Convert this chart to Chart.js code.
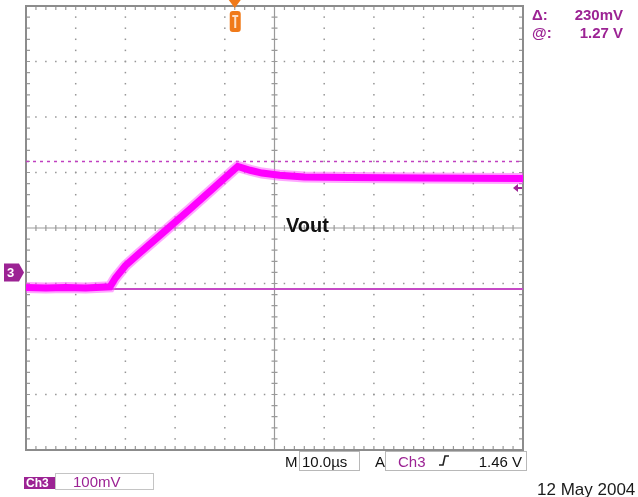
<html>
<head>
    <title>Vout</title>
    <style>
        body { margin: 0; background: #fff; }
    </style>
</head>
<body>
<div style="width: 638px; height: 497px">
    <canvas id="scope" width="638" height="497"></canvas>
</div>

<script src="https://cdn.jsdelivr.net/npm/chart.js"></script>

<script>
    // trace: time in us, Vout in mV from the centre line (100 mV/div)
    const timeUs = [0, 4, 8, 12, 16.9, 18.0, 20.0, 22.5, 27.5, 33.0, 38.5, 42.6, 45.1, 47.5, 51.0, 56.0, 65.0, 80.0, 100]
    const voutMv = [-107, -108, -107, -108, -106, -90, -68, -48, -9, 34, 78, 111, 104, 99, 95, 92, 91, 90, 89]
    // cursors: dotted one and solid one, 230 mV apart
    const cursorMv = [120, -110]
    const groundMv = -80
    const triggerUs = 42
    const triggerMv = 72
    const xRange = [0, 100]
    const yRange = [-400, 400]

    const purple = '#9c2394'

    function flat(v) {
        return [{x: xRange[0], y: v}, {x: xRange[1], y: v}]
    }

    const tracePoints = timeUs.map((t, i) => ({x: t, y: voutMv[i]}))

    const scopeScreen = {
        id: 'scopeScreen',
        beforeDatasetsDraw(chart) {
            const {ctx, chartArea: a, scales: {x, y}} = chart
            const minorX = [], minorY = []
            for (let v = xRange[0]; v <= xRange[1] + 0.01; v += 2) minorX.push(x.getPixelForValue(v))
            for (let v = yRange[0]; v <= yRange[1] + 0.01; v += 20) minorY.push(y.getPixelForValue(v))
            ctx.save()
            // dotted graticule
            ctx.fillStyle = '#959595'
            for (let v = 10; v < 100; v += 10) {
                if (v === 50) continue
                const px = x.getPixelForValue(v)
                for (const py of minorY) ctx.fillRect(px - 0.75, py - 0.75, 1.5, 1.5)
            }
            for (let v = -300; v < 400; v += 100) {
                if (v === 0) continue
                const py = y.getPixelForValue(v)
                for (const px of minorX) ctx.fillRect(px - 0.75, py - 0.75, 1.5, 1.5)
            }
            // centre cross with ticks
            const cx = x.getPixelForValue(50), cy = y.getPixelForValue(0)
            ctx.strokeStyle = '#9a9a9a'
            ctx.lineWidth = 1.2
            ctx.beginPath()
            ctx.moveTo(cx, a.top); ctx.lineTo(cx, a.bottom)
            ctx.moveTo(a.left, cy); ctx.lineTo(a.right, cy)
            for (const py of minorY) { ctx.moveTo(cx - 3, py); ctx.lineTo(cx + 3, py) }
            for (const px of minorX) { ctx.moveTo(px, cy - 3); ctx.lineTo(px, cy + 3) }
            // border ticks
            for (const py of minorY) {
                ctx.moveTo(a.left, py); ctx.lineTo(a.left + 4, py)
                ctx.moveTo(a.right, py); ctx.lineTo(a.right - 4, py)
            }
            for (const px of minorX) {
                ctx.moveTo(px, a.top); ctx.lineTo(px, a.top + 4)
                ctx.moveTo(px, a.bottom); ctx.lineTo(px, a.bottom - 4)
            }
            ctx.stroke()
            ctx.strokeStyle = '#8c8c8c'
            ctx.lineWidth = 2
            ctx.strokeRect(a.left, a.top, a.right - a.left, a.bottom - a.top)
            ctx.restore()
        },
        afterDraw(chart) {
            const {ctx, chartArea: a, scales: {x, y}} = chart
            ctx.save()
            // channel 3 ground marker
            const gy = y.getPixelForValue(groundMv)
            ctx.fillStyle = purple
            ctx.beginPath()
            ctx.moveTo(4, gy - 9); ctx.lineTo(19, gy - 9); ctx.lineTo(24, gy)
            ctx.lineTo(19, gy + 9); ctx.lineTo(4, gy + 9); ctx.closePath()
            ctx.fill()
            ctx.fillStyle = '#fff'
            ctx.font = 'bold 13px "Liberation Sans"'
            ctx.textBaseline = 'middle'
            ctx.fillText('3', 7, gy + 1)
            // trigger position marker
            const tx = x.getPixelForValue(triggerUs)
            ctx.fillStyle = '#f07a1a'
            ctx.beginPath()
            ctx.moveTo(tx - 6, 0); ctx.lineTo(tx + 6, 0); ctx.lineTo(tx, 8); ctx.closePath()
            ctx.fill()
            ctx.beginPath()
            ctx.roundRect(tx - 5, 11, 11, 21, 3)
            ctx.fill()
            ctx.fillStyle = '#fde0c8'
            ctx.fillRect(tx - 2.5, 15, 6, 2)
            ctx.fillRect(tx - 0.5, 15, 2, 13)
            // trigger level arrow
            const ty = y.getPixelForValue(triggerMv)
            ctx.fillStyle = purple
            ctx.beginPath()
            ctx.moveTo(a.right - 10, ty); ctx.lineTo(a.right - 5, ty - 4); ctx.lineTo(a.right - 5, ty + 4); ctx.closePath()
            ctx.fill()
            ctx.fillRect(a.right - 6, ty - 1, 5, 2)

            // label inside the screen
            ctx.fillStyle = '#111'
            ctx.textBaseline = 'alphabetic'
            ctx.font = 'bold 20px "Liberation Sans"'
            ctx.fillText('Vout', 286, 232)

            // cursor readout
            ctx.fillStyle = purple
            ctx.font = 'bold 15px "Liberation Sans"'
            ctx.fillText('\u0394:', 532, 20)
            ctx.fillText('@:', 532, 38)
            ctx.textAlign = 'right'
            ctx.fillText('230mV', 623, 20)
            ctx.fillText('1.27 V', 623, 38)

            // timebase and trigger boxes
            ctx.strokeStyle = '#b8b8b8'
            ctx.lineWidth = 1
            ctx.strokeRect(299.5, 451.5, 60, 19)
            ctx.strokeRect(385.5, 451.5, 141, 19)
            ctx.textAlign = 'left'
            ctx.fillStyle = '#111'
            ctx.font = '15px "Liberation Sans"'
            ctx.fillText('M', 285, 467)
            ctx.fillText('10.0\u00b5s', 302, 467)
            ctx.fillText('A', 375, 467)
            ctx.textAlign = 'right'
            ctx.fillText('1.46 V', 522, 467)
            ctx.textAlign = 'left'
            ctx.fillStyle = purple
            ctx.fillText('Ch3', 398, 467)
            ctx.strokeStyle = '#222'
            ctx.lineWidth = 1.6
            ctx.beginPath()
            ctx.moveTo(439, 465); ctx.lineTo(443, 465); ctx.lineTo(445, 456); ctx.lineTo(449, 456)
            ctx.stroke()

            // channel scale
            ctx.fillStyle = purple
            ctx.fillRect(24, 477, 31, 12)
            ctx.strokeStyle = '#c4c4c4'
            ctx.lineWidth = 1
            ctx.strokeRect(55.5, 473.5, 98, 16)
            ctx.fillStyle = '#fff'
            ctx.font = 'bold 12px "Liberation Sans"'
            ctx.fillText('Ch3', 26, 487)
            ctx.fillStyle = purple
            ctx.font = '15px "Liberation Sans"'
            ctx.fillText('100mV', 73, 487)

            // date
            ctx.fillStyle = '#1a1a1a'
            ctx.font = '17px "Liberation Sans"'
            ctx.fillText('12 May 2004', 537, 495)
            ctx.restore()
        }
    }

    new Chart(document.getElementById('scope'), {
        type: 'scatter',
        data: {
            datasets: [{
                data: tracePoints,
                showLine: true,
                borderColor: '#ff00ff',
                borderWidth: 7,
                pointRadius: 0,
                tension: 0
            }, {
                data: tracePoints,
                showLine: true,
                borderColor: 'rgba(255, 80, 255, 0.5)',
                borderWidth: 11,
                pointRadius: 0,
                tension: 0
            }, {
                data: flat(cursorMv[0]),
                showLine: true,
                borderColor: '#c040c0',
                borderWidth: 1.5,
                borderDash: [3, 4],
                pointRadius: 0
            }, {
                data: flat(cursorMv[1]),
                showLine: true,
                borderColor: '#c64ac6',
                borderWidth: 2,
                pointRadius: 0
            }]
        },
        options: {
            responsive: false,
            animation: false,
            layout: {
                padding: {left: 26, right: 115, top: 6, bottom: 47}
            },
            scales: {
                x: {type: 'linear', min: xRange[0], max: xRange[1], display: false},
                y: {min: yRange[0], max: yRange[1], display: false}
            },
            plugins: {
                legend: {display: false},
                tooltip: {enabled: false}
            }
        },
        plugins: [scopeScreen]
    });
</script>
</body>
</html>
